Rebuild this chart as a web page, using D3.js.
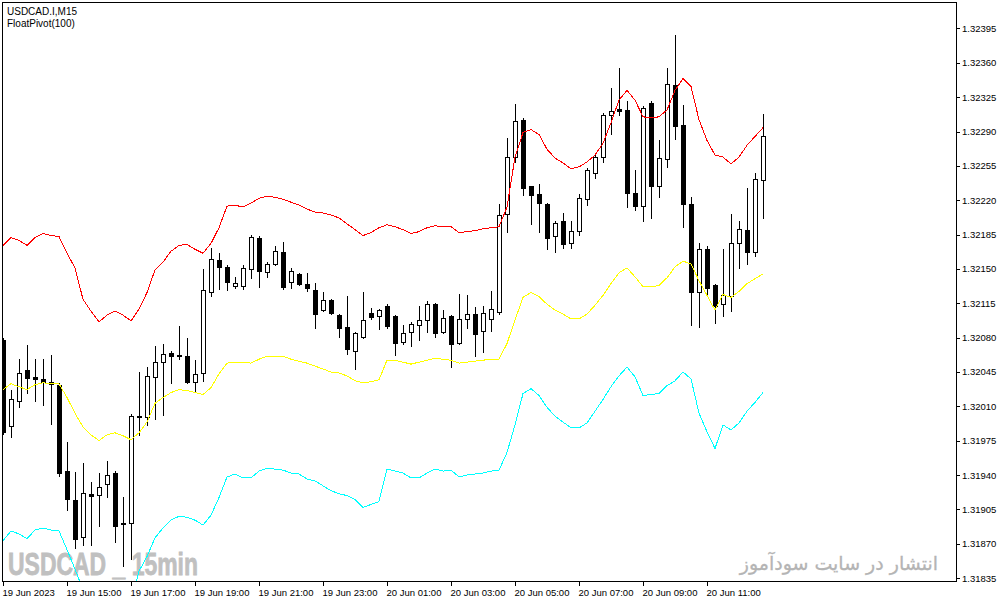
<!DOCTYPE html>
<html>
<head>
<meta charset="utf-8">
<script src="https://cdn.jsdelivr.net/npm/d3@7"></script>
<style>
  body { margin: 0; background: #ffffff; }
  svg { display: block; }
</style>
</head>
<body>
<script>
// USDCAD.I M15 bars, 19 Jun 13:00 .. 20 Jun 12:45
var open = [1.32078,1.31990,1.32015,1.32047,1.32040,1.32038,1.32035,1.32032,1.31944,1.31915,
            1.31877,1.31921,1.31920,1.31931,1.31942,1.31891,1.31891,1.31999,1.31999,1.32040,
            1.32055,1.32064,1.32062,1.32061,1.32035,1.32044,1.32126,1.32159,1.32152,1.32133,
            1.32133,1.32150,1.32182,1.32147,1.32155,1.32167,1.32137,1.32145,1.32135,1.32129,
            1.32108,1.32118,1.32103,1.32091,1.32066,1.32081,1.32105,1.32102,1.32112,1.32102,
            1.32076,1.32086,1.32093,1.32098,1.32114,1.32086,1.32102,1.32075,1.32099,1.32104,
            1.32087,1.32099,1.32106,1.32206,1.32264,1.32302,1.32234,1.32226,1.32216,1.32184,
            1.32199,1.32176,1.32189,1.32221,1.32248,1.32264,1.32307,1.32313,1.32312,1.32227,
            1.32214,1.32319,1.32235,1.32262,1.32337,1.32297,1.32216,1.32127,1.32170,1.32134,
            1.32114,1.32122,1.32176,1.32190,1.32167,1.32241];
var high = [1.32080,1.32027,1.32058,1.32072,1.32058,1.32058,1.32062,1.32034,1.31974,1.31943,
            1.31952,1.31933,1.31942,1.31954,1.31944,1.31918,1.32002,1.32045,1.32050,1.32071,
            1.32073,1.32066,1.32092,1.32080,1.32057,1.32150,1.32171,1.32166,1.32154,1.32142,
            1.32154,1.32185,1.32184,1.32157,1.32173,1.32177,1.32151,1.32146,1.32146,1.32136,
            1.32126,1.32119,1.32104,1.32122,1.32086,1.32127,1.32110,1.32109,1.32114,1.32103,
            1.32093,1.32096,1.32112,1.32117,1.32115,1.32108,1.32103,1.32124,1.32123,1.32111,
            1.32112,1.32128,1.32216,1.32283,1.32318,1.32304,1.32235,1.32237,1.32217,1.32199,
            1.32207,1.32199,1.32226,1.32253,1.32266,1.32309,1.32334,1.32355,1.32321,1.32251,
            1.32316,1.32321,1.32281,1.32355,1.32388,1.32317,1.32223,1.32176,1.32173,1.32135,
            1.32170,1.32206,1.32199,1.32232,1.32248,1.32308];
var low = [1.31982,1.31979,1.32009,1.32024,1.32015,1.32011,1.31992,1.31939,1.31904,1.31866,
           1.31869,1.31869,1.31888,1.31918,1.31872,1.31847,1.31854,1.31981,1.31991,1.31997,
           1.32001,1.32034,1.32058,1.32034,1.32025,1.32036,1.32122,1.32130,1.32129,1.32131,
           1.32130,1.32141,1.32132,1.32142,1.32154,1.32130,1.32131,1.32134,1.32128,1.32090,
           1.32107,1.32104,1.32081,1.32063,1.32048,1.32080,1.32099,1.32089,1.32090,1.32062,
           1.32074,1.32071,1.32078,1.32086,1.32081,1.32085,1.32050,1.32074,1.32090,1.32061,
           1.32065,1.32087,1.32104,1.32188,1.32259,1.32225,1.32196,1.32188,1.32170,1.32167,
           1.32171,1.32171,1.32185,1.32215,1.32243,1.32259,1.32287,1.32307,1.32213,1.32210,
           1.32199,1.32202,1.32223,1.32254,1.32282,1.32193,1.32093,1.32091,1.32123,1.32095,
           1.32102,1.32107,1.32151,1.32155,1.32163,1.32202];
var close = [1.31984,1.32017,1.32044,1.32039,1.32038,1.32035,1.32033,1.31942,1.31916,1.31875,
             1.31922,1.31919,1.31928,1.31940,1.31888,1.31890,1.32000,1.32000,1.32041,1.32055,
             1.32063,1.32061,1.32061,1.32035,1.32043,1.32129,1.32160,1.32152,1.32137,1.32136,
             1.32151,1.32183,1.32148,1.32155,1.32168,1.32132,1.32148,1.32135,1.32131,1.32104,
             1.32118,1.32105,1.32090,1.32068,1.32085,1.32098,1.32101,1.32108,1.32092,1.32075,
             1.32085,1.32094,1.32098,1.32114,1.32085,1.32100,1.32073,1.32099,1.32104,1.32084,
             1.32105,1.32109,1.32205,1.32264,1.32301,1.32232,1.32225,1.32217,1.32182,1.32197,
             1.32175,1.32189,1.32222,1.32251,1.32264,1.32307,1.32311,1.32311,1.32227,1.32214,
             1.32314,1.32235,1.32263,1.32338,1.32296,1.32216,1.32127,1.32170,1.32131,1.32112,
             1.32123,1.32176,1.32191,1.32167,1.32242,1.32285];

// FloatPivot(100) lines
var upper = [1.32174,1.32182,1.32179,1.32174,1.32182,1.32186,1.32184,1.32183,1.32166,1.32151,
             1.32119,1.32107,1.32096,1.32103,1.32107,1.32103,1.32097,1.32109,1.32126,1.32149,
             1.32157,1.32168,1.32174,1.32175,1.32170,1.32166,1.32176,1.32192,1.32214,1.32215,
             1.32213,1.32217,1.32222,1.32224,1.32223,1.32221,1.32218,1.32215,1.32211,1.32208,
             1.32207,1.32205,1.32202,1.32196,1.32190,1.32184,1.32187,1.32192,1.32195,1.32193,
             1.32190,1.32186,1.32188,1.32192,1.32194,1.32193,1.32193,1.32187,1.32188,1.32189,
             1.32191,1.32192,1.32193,1.32213,1.32264,1.32289,1.32292,1.32287,1.32272,1.32263,
             1.32258,1.32252,1.32254,1.32259,1.32266,1.32278,1.32299,1.32322,1.32332,1.32322,
             1.32305,1.32304,1.32305,1.32312,1.32332,1.32344,1.32336,1.32302,1.32281,1.32266,
             1.32264,1.32257,1.32264,1.32276,1.32285,1.32294];
var middle = [1.32027,1.32033,1.32030,1.32027,1.32032,1.32034,1.32033,1.32033,1.32019,1.32003,
              1.31989,1.31981,1.31975,1.31981,1.31983,1.31980,1.31976,1.31983,1.31994,1.32013,
              1.32019,1.32024,1.32027,1.32026,1.32024,1.32022,1.32029,1.32043,1.32054,1.32055,
              1.32055,1.32054,1.32058,1.32061,1.32061,1.32061,1.32058,1.32056,1.32054,1.32051,
              1.32048,1.32045,1.32044,1.32041,1.32036,1.32034,1.32035,1.32037,1.32057,1.32057,
              1.32055,1.32053,1.32055,1.32057,1.32059,1.32058,1.32057,1.32054,1.32055,1.32056,
              1.32057,1.32058,1.32058,1.32074,1.32098,1.32121,1.32126,1.32122,1.32114,1.32108,
              1.32104,1.32099,1.32099,1.32104,1.32113,1.32123,1.32135,1.32146,1.32151,1.32142,
              1.32132,1.32132,1.32133,1.32141,1.32152,1.32158,1.32155,1.32138,1.32123,1.32108,
              1.32124,1.32121,1.32127,1.32135,1.32140,1.32145];
var lower = [1.31873,1.31883,1.31880,1.31875,1.31884,1.31886,1.31884,1.31883,1.31864,1.31844,
             1.31823,1.31815,1.31807,1.31813,1.31816,1.31813,1.31811,1.31842,1.31857,1.31876,
             1.31886,1.31894,1.31898,1.31897,1.31894,1.31889,1.31899,1.31917,1.31938,1.31941,
             1.31937,1.31937,1.31944,1.31947,1.31946,1.31945,1.31942,1.31941,1.31936,1.31934,
             1.31929,1.31924,1.31921,1.31919,1.31915,1.31907,1.31910,1.31913,1.31946,1.31944,
             1.31942,1.31937,1.31937,1.31942,1.31946,1.31944,1.31945,1.31938,1.31940,1.31941,
             1.31942,1.31944,1.31945,1.31963,1.31991,1.32023,1.32028,1.32021,1.32009,1.32000,
             1.31994,1.31988,1.31988,1.31993,1.32005,1.32017,1.32030,1.32041,1.32050,1.32040,
             1.32021,1.32022,1.32023,1.32031,1.32036,1.32045,1.32038,1.32003,1.31984,1.31967,
             1.31991,1.31986,1.31993,1.32005,1.32014,1.32024];

var priceTicks = ["1.32395","1.32360","1.32325","1.32290","1.32255","1.32220","1.32185","1.32150",
                  "1.32115","1.32080","1.32045","1.32010","1.31975","1.31940","1.31905","1.31870","1.31835"];
var timeLabels = ["19 Jun 2023","19 Jun 15:00","19 Jun 17:00","19 Jun 19:00","19 Jun 21:00","19 Jun 23:00",
                  "20 Jun 01:00","20 Jun 03:00","20 Jun 05:00","20 Jun 07:00","20 Jun 09:00","20 Jun 11:00"];
var timeBars = [0, 8, 16, 24, 32, 40, 48, 56, 64, 72, 80, 88];

var width = 1002;
var height = 604;
var plotL = 2, plotT = 2, plotR = 956, plotB = 581;
var font = "'Liberation Sans', Arial, sans-serif";

var svg = d3.select("body")
            .append("svg")
            .attr("width", width)
            .attr("height", height);

var x = d3.scaleLinear().domain([0, open.length - 1]).range([3, 3 + 8 * (open.length - 1)]);
var y = d3.scaleLinear().domain([1.31832, 1.32422]).range([plotB, plotT]);

svg.append("clipPath").attr("id", "plot")
   .append("rect")
   .attr("x", plotL + 1).attr("y", plotT + 1)
   .attr("width", plotR - plotL - 1).attr("height", plotB - plotT - 1);

var bars = d3.range(open.length);
var px = function(v) { return Math.round(v) + 0.5; };

// watermarks (under the bars)
svg.append("text")
   .text("USDCAD _ 15min")
   .attr("x", 8)
   .attr("y", 575)
   .attr("textLength", 190)
   .attr("lengthAdjust", "spacingAndGlyphs")
   .attr("font-family", "'Liberation Sans Narrow', 'Liberation Sans', sans-serif")
   .attr("font-weight", "bold")
   .attr("font-size", "32px")
   .attr("fill", "#c0c0c0")
   .attr("stroke", "#c0c0c0")
   .attr("stroke-width", 0.8);

svg.append("text")
   .text("انتشار در سایت سودآموز")
   .attr("x", 938)
   .attr("y", 570)
   .attr("text-anchor", "end")
   .attr("font-family", "'DejaVu Sans', sans-serif")
   .attr("font-size", "19px")
   .attr("fill", "#b4b4b4")
   .attr("stroke", "#b4b4b4")
   .attr("stroke-width", 0.3);

// candles
var candles = svg.append("g").attr("clip-path", "url(#plot)");

candles.selectAll("line.wick")
       .data(bars)
       .enter()
       .append("line")
       .attr("class", "wick")
       .attr("x1", function(i) { return px(x(i)); })
       .attr("x2", function(i) { return px(x(i)); })
       .attr("y1", function(i) { return Math.round(y(high[i])); })
       .attr("y2", function(i) { return Math.round(y(low[i])) + 1; })
       .attr("stroke", "#000")
       .attr("stroke-width", 1)
       .attr("shape-rendering", "crispEdges");

candles.selectAll("path.body")
       .data(bars)
       .enter()
       .append("path")
       .attr("class", "body")
       .attr("d", function(i) {
         var cx = Math.round(x(i));
         var y0 = px(y(Math.max(open[i], close[i])));
         var y1 = px(y(Math.min(open[i], close[i])));
         return "M" + (cx - 1.5) + "," + y0 + "H" + (cx + 2.5) + "V" + y1 + "H" + (cx - 1.5) + "Z";
       })
       .attr("fill", function(i) { return close[i] >= open[i] ? "#fff" : "#000"; })
       .attr("stroke", "#000")
       .attr("stroke-width", 1)
       .attr("shape-rendering", "crispEdges");

// indicator lines
var line = d3.line()
             .x(function(d, i) { return x(i); })
             .y(function(d) { return y(d); });

var lines = svg.append("g").attr("clip-path", "url(#plot)");
[[upper, "#ff0000"], [middle, "#ffff00"], [lower, "#00ffff"]].forEach(function(s) {
  lines.append("path")
       .datum(s[0])
       .attr("d", line)
       .attr("fill", "none")
       .attr("stroke", s[1])
       .attr("stroke-width", 1)
       .attr("shape-rendering", "crispEdges");
});

// frame
svg.append("rect")
   .attr("x", plotL + 0.5).attr("y", plotT + 0.5)
   .attr("width", plotR - plotL).attr("height", plotB - plotT)
   .attr("fill", "none")
   .attr("stroke", "#000")
   .attr("shape-rendering", "crispEdges");

// price axis
var pAxis = svg.append("g");
pAxis.selectAll("line")
     .data(priceTicks)
     .enter()
     .append("line")
     .attr("x1", plotR).attr("x2", plotR + 4)
     .attr("y1", function(d) { return px(y(+d)); })
     .attr("y2", function(d) { return px(y(+d)); })
     .attr("stroke", "#000")
     .attr("shape-rendering", "crispEdges");
pAxis.selectAll("text")
     .data(priceTicks)
     .enter()
     .append("text")
     .text(function(d) { return d; })
     .attr("x", plotR + 6)
     .attr("y", function(d) { return y(+d) + 3.5; })
     .attr("font-family", font)
     .attr("font-size", "9.5px")
     .attr("fill", "#000");

// time axis
var tAxis = svg.append("g");
tAxis.selectAll("line")
     .data(timeBars)
     .enter()
     .append("line")
     .attr("x1", function(d) { return px(x(d)); })
     .attr("x2", function(d) { return px(x(d)); })
     .attr("y1", plotB).attr("y2", plotB + 5)
     .attr("stroke", "#000")
     .attr("shape-rendering", "crispEdges");
tAxis.selectAll("text")
     .data(timeBars)
     .enter()
     .append("text")
     .text(function(d, i) { return timeLabels[i]; })
     .attr("x", function(d) { return x(d) - 0.5; })
     .attr("y", 596)
     .attr("font-family", font)
     .attr("font-size", "9.5px")
     .attr("fill", "#000");

// header
svg.append("text").text("USDCAD.I,M15")
   .attr("x", 7).attr("y", 15)
   .attr("font-family", font).attr("font-size", "10px").attr("fill", "#000");
svg.append("text").text("FloatPivot(100)")
   .attr("x", 7).attr("y", 27)
   .attr("font-family", font).attr("font-size", "10px").attr("fill", "#000");
</script>
</body>
</html>
